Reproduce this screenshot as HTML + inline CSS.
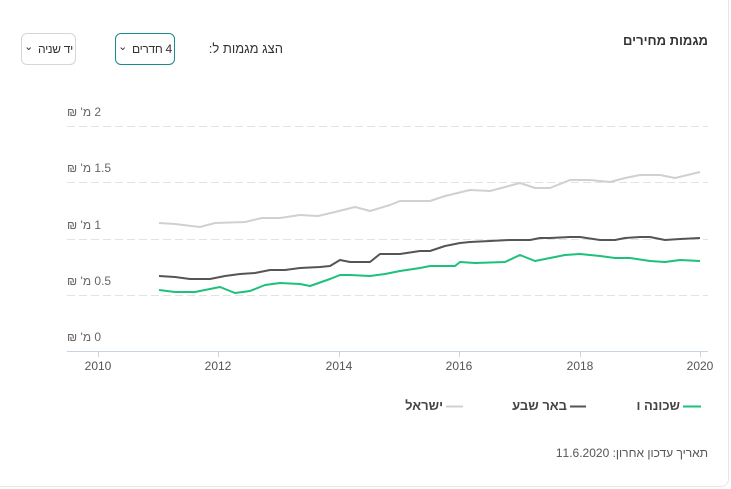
<!DOCTYPE html>
<html><head><meta charset="utf-8"><style>
body{margin:0;width:731px;height:489px;background:#fff;font-family:"Liberation Sans","Noto Sans CJK JP",sans-serif;position:relative;overflow:hidden;color:#333}
.card{position:absolute;left:-10px;top:-10px;width:737px;height:495px;border:1px solid #e6e6e6;border-radius:8px}
.abs{position:absolute;white-space:nowrap}
.btn{position:absolute;border:1px solid #d6d6d6;border-radius:6px;font-size:12px;display:flex;align-items:center;justify-content:center;gap:5px;color:#333;white-space:nowrap;letter-spacing:-0.3px}
.yl{position:absolute;left:67px;font-size:12px;color:#666;direction:rtl;white-space:nowrap}
</style></head><body>
<div class="card"></div>
<div class="abs" style="right:23px;top:33px;font-size:13px;font-weight:bold;direction:rtl">מגמות מחירים</div>
<div class="abs" style="left:181px;top:41px;font-size:13px;direction:rtl;width:102px;text-align:right">הצג מגמות ל:</div>
<div class="btn" style="left:115px;top:33px;width:58px;height:30px;border-color:#1a8a8a"><span style="font-size:11px;line-height:8px;margin-top:-4px">&#8964;</span><span dir="rtl">4 חדרים</span></div>
<div class="btn" style="left:21px;top:33px;width:53px;height:30px"><span style="font-size:11px;line-height:8px;margin-top:-4px">&#8964;</span><span dir="rtl">יד שניה</span></div>
<svg class="abs" style="left:0;top:0" width="731" height="489">
<g stroke="#e2e2e2" stroke-dasharray="8,4" stroke-width="1">
<line x1="67" x2="708" y1="126.5" y2="126.5"/><line x1="67" x2="708" y1="182.5" y2="182.5"/>
<line x1="67" x2="708" y1="239.5" y2="239.5"/><line x1="67" x2="708" y1="295.5" y2="295.5"/>
</g>
<line x1="67" x2="708" y1="351.5" y2="351.5" stroke="#c8d3e6"/>
<g stroke="#c8d3e6"><line x1="98.5" x2="98.5" y1="351" y2="357"/><line x1="218.5" x2="218.5" y1="351" y2="357"/><line x1="339.5" x2="339.5" y1="351" y2="357"/><line x1="459.5" x2="459.5" y1="351" y2="357"/><line x1="580.5" x2="580.5" y1="351" y2="357"/><line x1="700.5" x2="700.5" y1="351" y2="357"/></g>
<g font-size="12" fill="#555" text-anchor="middle" font-family="Liberation Sans"><text x="98" y="370">2010</text><text x="218" y="370">2012</text><text x="339" y="370">2014</text><text x="459" y="370">2016</text><text x="580" y="370">2018</text><text x="700" y="370">2020</text></g>
<g fill="none" stroke-width="2" stroke-linejoin="round">
<polyline stroke="#d0d0d0" points="159,223 175,224 200,227 215,223 245,222 262,218 280,218 300,215 318,216 335,212 355,207 370,211 390,205 400,201 430,201 445,196 470,190 490,191 505,187 520,183 535,188 550,188 570,180 590,180 610,182 625,178 640,175 660,175 675,178 700,172"/>
<polyline stroke="#555" points="159,276 175,277 190,279 210,279 225,276 240,274 255,273 270,270 285,270 300,268 320,267 330,266 340,260 350,262 370,262 380,254 400,254 420,251 430,251 445,246 460,243 470,242 490,241 510,240 530,240 540,238 550,238 570,237 580,237 600,240 615,240 625,238 640,237 650,237 665,240 680,239 700,238"/>
<polyline stroke="#1cc17a" points="159,290 175,292 195,292 210,289 220,287 235,293 250,291 265,285 280,283 300,284 310,286 330,279 340,275 350,275 370,276 385,274 400,271 420,268 430,266 455,266 460,262 475,263 505,262 520,255 535,261 550,258 565,255 580,254 600,256 615,258 630,258 650,261 665,262 680,260 700,261"/>
</g>
<line x1="683" x2="701" y1="406.5" y2="406.5" stroke="#1cc17a" stroke-width="2"/>
<line x1="570" x2="586" y1="406.5" y2="406.5" stroke="#555" stroke-width="2"/>
<line x1="446" x2="463" y1="406.5" y2="406.5" stroke="#d0d0d0" stroke-width="2"/>
</svg>
<div class="yl" style="top:105px">2 מ' ₪</div>
<div class="yl" style="top:161px">1.5 מ' ₪</div>
<div class="yl" style="top:218px">1 מ' ₪</div>
<div class="yl" style="top:274px">0.5 מ' ₪</div>
<div class="yl" style="top:330px">0 מ' ₪</div>
<div class="abs" style="right:51px;top:398px;font-size:13px;font-weight:bold;direction:rtl;color:#444">שכונה ו</div>
<div class="abs" style="right:164px;top:398px;font-size:13px;font-weight:bold;direction:rtl;color:#444">באר שבע</div>
<div class="abs" style="right:288px;top:398px;font-size:13px;font-weight:bold;direction:rtl;color:#444">ישראל</div>
<div class="abs" style="right:23px;top:446px;font-size:12px;direction:rtl;color:#555">תאריך עדכון אחרון: 11.6.2020</div>
</body></html>
